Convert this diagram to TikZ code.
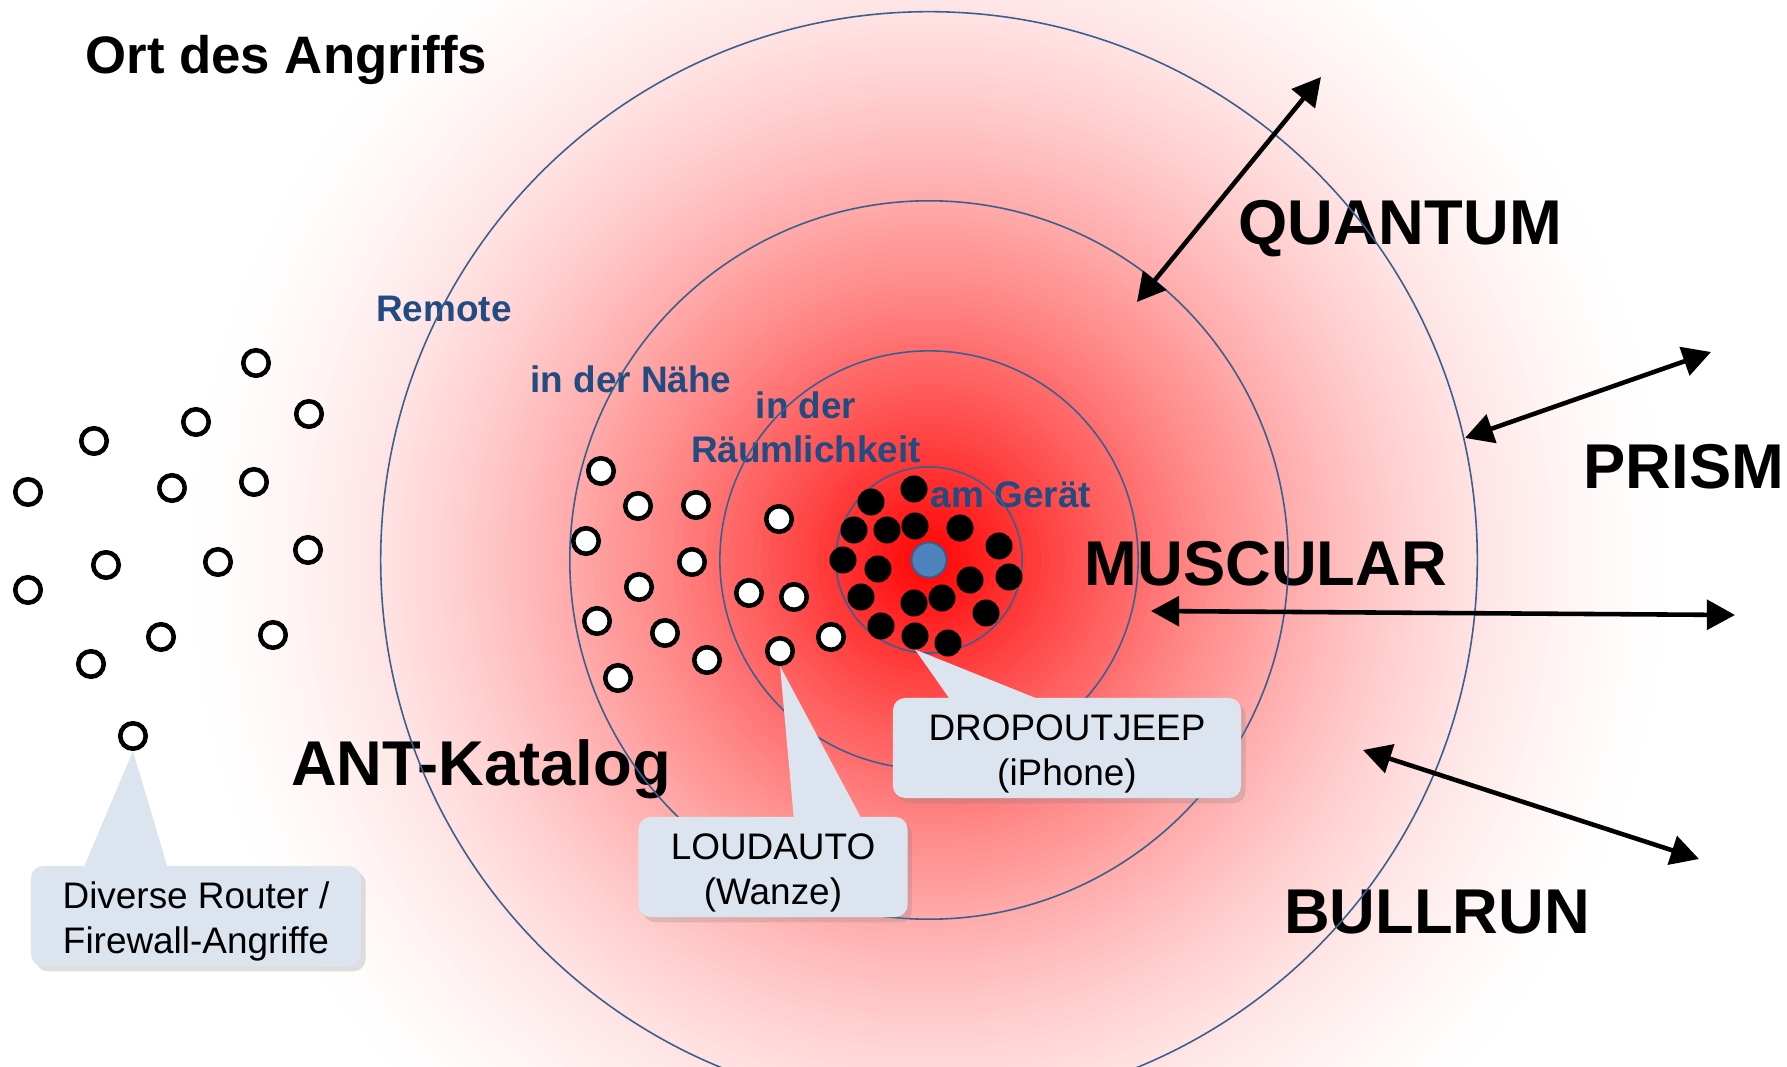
\documentclass[tikz,border=0pt]{standalone}
\usepackage{fontspec}
\setmainfont{Liberation Sans}
\usetikzlibrary{arrows.meta, calc, shadows}
\definecolor{Ring_Blue}{HTML}{3A5F8F}
\definecolor{Label_Blue}{HTML}{224B82}
\definecolor{Dot_Blue}{HTML}{4F81BD}
\definecolor{Dot_Edge}{HTML}{385D8A}
\definecolor{Callout_Fill}{HTML}{DCE4F0}

\begin{document}
\begin{tikzpicture}[
  x=0.01cm, y=-0.01cm,
  every node/.style={font=\fontsize{10.5}{12.8}\selectfont},
  title/.style={font=\fontsize{15}{18}\selectfont\bfseries, inner sep=0pt},
  zone/.style={text=Label_Blue, font=\fontsize{10.5}{12.6}\selectfont\bfseries, align=center},
  prog/.style={font=\fontsize{18}{21}\selectfont\bfseries},
  ring/.style={draw=Ring_Blue, line width=0.45pt},
  arr/.style={{Triangle[length=8pt, width=8.4pt]}-{Triangle[length=8pt, width=8.4pt]}, line width=1.3pt},
  wdot/.style={circle, draw=black, fill=white, line width=1.3pt, minimum size=0.255cm, inner sep=0pt, outer sep=0pt},
  bdot/.style={circle, fill=black, minimum size=0.27cm, inner sep=0pt, outer sep=0pt},
  cdot/.style={circle, fill=Dot_Blue, draw=Dot_Edge, line width=0.5pt, minimum size=0.35cm, inner sep=0pt},
  callout/.style={fill=Callout_Fill, rounded corners=3.5pt, minimum height=1cm, inner sep=0pt, align=center,
    text height=23.7pt, text depth=2.2pt,
    drop shadow={shadow xshift=1.3pt, shadow yshift=-1.5pt, opacity=0.25}},
]
  % Background
  \useasboundingbox (0,0) rectangle (1787,1067);
  \clip (0,0) rectangle (1787,1067);
  \fill[white] (0,0) rectangle (1787,1067);
  \coordinate (ctr) at (929,560);
  % red glow, ring by ring
  \foreach \r in {752,744,...,8} {
    \pgfmathsetmacro\p{100*(1-\r/760)^1.7}
    \pgfmathsetmacro\rr{\r/100}
    \fill[red!\p!white] (ctr) circle [radius=\rr cm];
  }

  % Title
  \node[title, anchor=base west] (title) at (85,74) {Ort des Angriffs};

  % Zone labels
  \node[zone, anchor=base] (remote) at (444,322) {Remote};
  \node[zone, anchor=base] (near) at (631,393) {in der Nähe};
  \node[zone, anchor=base] (room) at (806,463) {in der\\Räumlichkeit};
  \node[zone, anchor=base] (ondev) at (1011,508) {am Gerät};

  % Programs
  \node[prog, anchor=base] (quantum) at (1400,245) {QUANTUM};
  \node[prog, anchor=base] (prism) at (1684,489) {PRISM};
  \node[prog, anchor=base] (muscular) at (1266,586) {MUSCULAR};
  \node[prog, anchor=base] (bullrun) at (1437,933) {BULLRUN};
  \node[prog, anchor=base] (ant) at (481,786) {ANT-Katalog};

  % Rings
  \foreach \r in {0.93, 2.09, 3.59, 5.48}
    \draw[ring] (ctr) circle [radius=\r cm];

  % Arrows
  \coordinate (qIn) at (1137,302);  \coordinate (qOut) at (1321,77);
  \coordinate (pIn) at (1465,438);  \coordinate (pOut) at (1711,352);
  \coordinate (mIn) at (1151,611);  \coordinate (mOut) at (1735,615);
  \coordinate (bIn) at (1363,750);  \coordinate (bOut) at (1699,859);
  \draw[arr] (qIn) -- (qOut);
  \draw[arr] (pIn) -- (pOut);
  \draw[arr] (mIn) -- (mOut);
  \draw[arr] (bIn) -- (bOut);

  % Remote targets
  \foreach \x/\y [count=\i] in {256/363, 309/414, 196/422, 94/441, 28/492, 172/488, 254/482, 106/565,
      218/562, 308/550, 28/590, 161/637, 273/635, 91/664, 133/736}
    \node[wdot] (wl\i) at (\x,\y) {};
  % Nearby targets
  \foreach \x/\y [count=\i] in {601/471, 638/506, 696/505, 586/541, 692/562, 639/587, 597/621, 665/633,
      707/660, 618/678, 779/519, 749/593, 794/597, 780/651, 831/637}
    \node[wdot] (wm\i) at (\x,\y) {};
  % Device targets
  \foreach \x/\y [count=\i] in {914/489, 871/502, 854/530, 887/530, 915/526, 960/528, 999/546, 843/560,
      878/569, 1009/577, 970/580, 861/597, 914/603, 942/598, 986/613, 881/626, 915/636, 948/643}
    \node[bdot] (bk\i) at (\x,\y) {};
  \node[cdot] (dev) at (ctr) {};

  % Callouts
  \node[callout, minimum width=3.48cm] (dj) at (1067,748) {DROPOUTJEEP\\(iPhone)};
  \fill[Callout_Fill] ($(dj.north west)+(57,1)$) -- (bk17.south) -- ($(dj.north west)+(144,1)$) -- cycle;
  \node[callout, minimum width=2.69cm] (la) at (773,867) {LOUDAUTO\\(Wanze)};
  \fill[Callout_Fill] ($(la.north west)+(156,1)$) -- ([yshift=-0.64pt]wm14.south) -- ($(la.north west)+(223,1)$) -- cycle;
  \node[callout, minimum width=3.30cm] (dr) at (196,916) {Diverse Router /\\Firewall-Angriffe};
  \fill[Callout_Fill] ($(dr.north west)+(54,1)$) -- ([yshift=-0.64pt]wl15.south) -- ($(dr.north west)+(137,1)$) -- cycle;
\end{tikzpicture}
\end{document}
